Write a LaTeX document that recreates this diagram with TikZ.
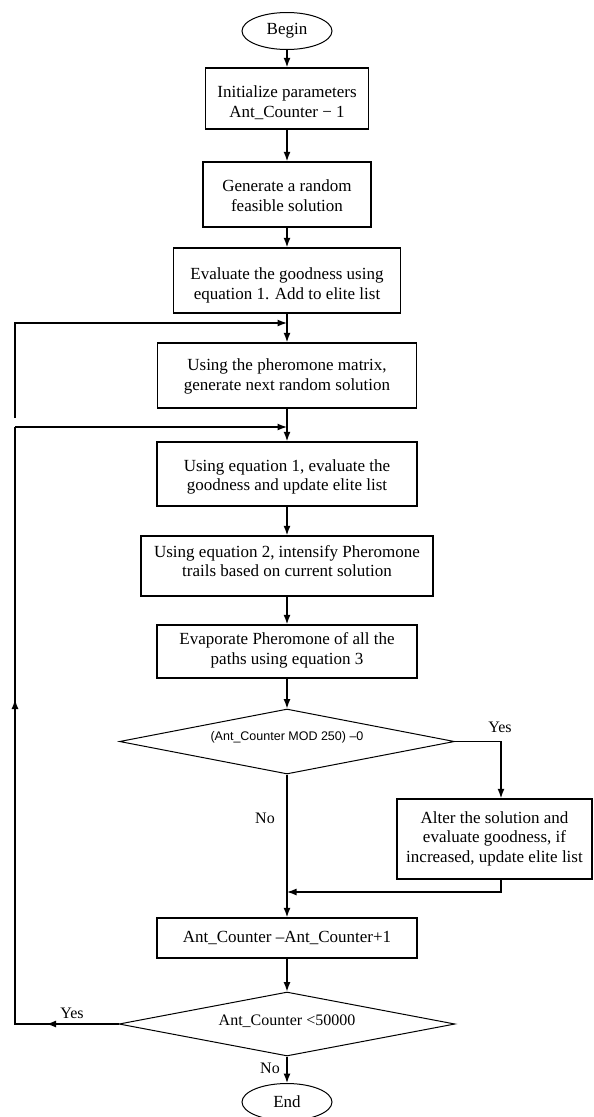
\documentclass[tikz,border=0pt]{standalone}
\usepackage{fontspec}
\setmainfont{Liberation Serif}
\newfontfamily\condfont{Liberation Sans}
\usetikzlibrary{shapes.geometric,arrows.meta,calc,decorations.markings}

% two-line box text, shifted vertically by the optional amount (positive = down)
\newcommand\boxtext[2][0pt]{\raisebox{-#1}[\height][\depth]{\begin{tabular}{@{}c@{}}#2\end{tabular}}}

\tikzset{
  procbox/.style={draw, rectangle, line width=1.5pt, inner sep=0pt,
    font=\fontsize{17}{19.5}\selectfont},
  terminal/.style={draw, ellipse, line width=1pt, inner sep=0pt,
    minimum width=90pt, minimum height=37pt, font=\fontsize{17}{20}\selectfont},
  decision/.style={draw, diamond, line width=1pt, inner sep=0pt, shape aspect=5},
  tip/.tip={Latex[length=9.5pt,width=7pt]},
  flow/.style={line width=1.3pt, -tip},
  plain/.style={line width=1.3pt},
  tag/.style={inner sep=0pt, font=\fontsize{16}{18}\selectfont}
}

\begin{document}
\begin{tikzpicture}[x=1pt, y=-1pt]
\useasboundingbox (0,0) rectangle (594,1117);

% main column
\node[terminal] (begin) at (287,31) {Begin};
\node[procbox, minimum width=163pt, minimum height=61pt] (init) at (287,98.5)
  {\boxtext[5pt]{Initialize parameters\\Ant\_Counter − 1}};
\node[procbox, minimum width=168pt, minimum height=65pt] (gen) at (287,194.5)
  {\boxtext[3pt]{Generate a random\\feasible solution}};
\node[procbox, minimum width=227pt, minimum height=65pt] (eval) at (287,280.5)
  {\boxtext[5pt]{Evaluate the goodness using\\equation 1. Add to elite list}};
\node[procbox, minimum width=259pt, minimum height=65pt] (next) at (287,375.5)
  {\boxtext[1pt]{Using the pheromone matrix,\\generate next random solution}};
\node[procbox, minimum width=260pt, minimum height=64pt] (upd) at (287,474)
  {\boxtext[3pt]{Using equation 1, evaluate the\\goodness and update elite list}};
\node[procbox, minimum width=292pt, minimum height=60pt] (intens) at (287,566)
  {\boxtext[-3pt]{Using equation 2, intensify Pheromone\\trails based on current solution}};
\node[procbox, minimum width=260pt, minimum height=53pt] (evap) at (287,651.5)
  {\boxtext[-1pt]{Evaporate Pheromone of all the\\paths using equation 3}};
\node[decision, minimum width=335pt, minimum height=65pt,
  font=\condfont\fontsize{12.5}{14}\selectfont] (mod) at (287,741.5)
  {\raisebox{4pt}[\height][\depth]{(Ant\_Counter MOD 250) –0}};
\node[procbox, minimum width=195pt, minimum height=80pt] (alter) at (494.5,839)
  {\boxtext{Alter the solution and\\evaluate goodness, if\\increased, update elite list}};
\node[procbox, minimum width=260pt, minimum height=40pt] (inc) at (287,938)
  {Ant\_Counter –Ant\_Counter+1};
\node[decision, minimum width=336pt, minimum height=64pt,
  font=\fontsize{16}{18}\selectfont] (test) at (287,1024)
  {\raisebox{3pt}[\height][\depth]{Ant\_Counter <50000}};
\node[terminal] (end) at (287,1102) {End};

% branch labels
\node[tag] (yesmod) at (500,727) {Yes};
\node[tag] (nomod) at (265,818) {No};
\node[tag] (yestest) at (72,1013) {Yes};
\node[tag] (notest) at (270,1068) {No};

% helper points
\coordinate (ycol) at (501,741.5);
\coordinate (ret) at (501,892);
\coordinate (loopA) at (15,418);
\coordinate (loopAtop) at (15,323);
\coordinate (loopB) at (15,1024);
\coordinate (loopBtop) at (15,427);

% straight flow
\draw[flow] (begin) -- (init);
\draw[flow] (init) -- (gen);
\draw[flow] (gen) -- (eval);
\draw[flow] (eval) -- (next);
\draw[flow] (next) -- (upd);
\draw[flow] (upd) -- (intens);
\draw[flow] (intens) -- (evap);
\draw[flow] (evap) -- (mod);
\draw[flow] (mod) -- (inc);
\draw[flow] (inc) -- (test);
\draw[flow] (test) -- (end);

% yes branch of the MOD test
\draw[flow] (mod.east) -- (ycol) -- (ycol |- alter.north);
\draw[flow] (ycol |- alter.south) -- (ret) -- (ret -| mod.south);

% loop-back lines on the left
\draw[flow] (loopA) -- (loopAtop) -- (loopAtop -| eval.south);
\draw[plain, postaction={decorate}, decoration={markings,
    mark=at position 72pt with {\arrow{tip}},
    mark=at position 428pt with {\arrow{tip}}}]
  (test.west) -- (loopB) -- (loopBtop);
\draw[flow] (loopBtop) -- (loopBtop -| next.south);
\end{tikzpicture}
\end{document}
